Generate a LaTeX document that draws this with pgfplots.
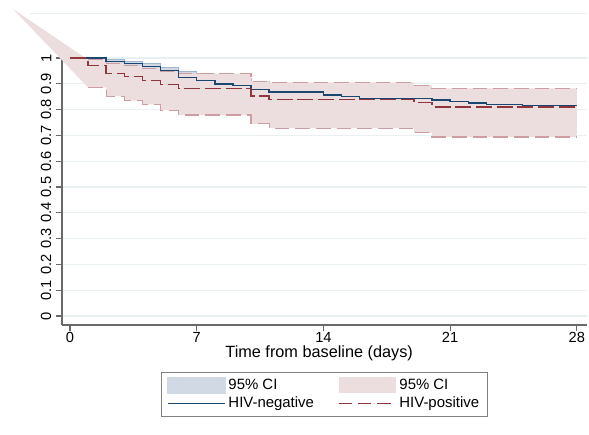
\documentclass[border=0pt]{standalone}
\usepackage{fontspec}
\setmainfont{Liberation Sans}
\usepackage{pgfplots}
\pgfplotsset{compat=1.18}
\definecolor{navyc}{RGB}{26,71,111}
\definecolor{maroonc}{RGB}{144,53,59}
\definecolor{pinkfill}{RGB}{236,221,222}
\definecolor{bluefill}{RGB}{209,218,228}
\definecolor{pinkline}{RGB}{205,158,161}
\definecolor{blueline}{RGB}{160,182,204}
\definecolor{gridc}{RGB}{232,240,241}
\definecolor{axisc}{RGB}{105,105,105}
\begin{document}
\begin{tikzpicture}
\useasboundingbox (-46.5pt,-82.5pt) rectangle (395.25pt,243.75pt);
\begin{axis}[
  scale only axis,
  width=393.6pt, height=207pt,
  xmin=-0.442, xmax=28.55,
  ymin=-0.035, ymax=1.035,
  clip=false,
  axis lines=left,
  axis line style={-, axisc, line width=1pt},
  xtick={0,7,14,21,28},
  ytick={0,0.1,0.2,0.3,0.4,0.5,0.6,0.7,0.8,0.9,1},
  yticklabels={0,0.1,0.2,0.3,0.4,0.5,0.6,0.7,0.8,0.9,1},
  tick align=outside,
  major tick length=4.5pt,
  tick style={axisc, line width=0.8pt},
  ymajorgrids,
  major grid style={gridc, line width=0.8pt},
  /pgf/number format/assume math mode=true,
  tick label style={font=\fontsize{11}{13}\selectfont},
  yticklabel style={rotate=90, anchor=south},
  xticklabel style={yshift=2.5pt},
  xlabel={Time from baseline (days)},
  xlabel style={at={(axis description cs:0.49,-0.102)}, anchor=center, font=\fontsize{12.2}{14}\selectfont},
  legend columns=2,
  legend cell align=left,
  legend style={at={(axis description cs:0.5,-0.1703)}, anchor=north,
    draw=gray, fill=white, line width=0.6pt,
    font=\fontsize{11.2}{13}\selectfont,
    inner xsep=4pt, inner ysep=3pt,
    /tikz/every even column/.append style={column sep=16pt}},
]
\draw[gridc, line width=0.8pt] (axis cs:-2.2,1.174) -- (axis cs:28.55,1.174);

% HIV-negative 95% CI band
\addplot[fill=bluefill, draw=blueline, line width=0.6pt,
  legend image code/.code={\fill[bluefill] (0pt,-6pt) rectangle (43pt,6pt);}]
coordinates {
(0,1) (2,1) (2,0.996) (3,0.996) (3,0.988) (4,0.988) (4,0.979) (5,0.979)
(5,0.965) (6,0.965) (6,0.95) (7,0.95) (7,0.94) (8,0.94) (8,0.928) (9,0.928)
(9,0.922) (10,0.922) (10,0.91) (11,0.91) (11,0.902) (14,0.902) (14,0.893)
(15,0.893) (15,0.887) (16,0.887) (16,0.882) (20,0.882) (20,0.876) (21,0.876)
(21,0.871) (22,0.871) (22,0.866) (23,0.866) (23,0.862) (25,0.862) (25,0.858) (28,0.858)
(28,0.771) (25,0.771) (25,0.776) (23,0.776) (23,0.782) (22,0.782) (22,0.789)
(21,0.789) (21,0.795) (20,0.795) (20,0.803) (16,0.803) (16,0.81) (15,0.81)
(15,0.818) (14,0.818) (14,0.828) (11,0.828) (11,0.838) (10,0.838) (10,0.855)
(9,0.855) (9,0.862) (8,0.862) (8,0.875) (7,0.875) (7,0.89) (6,0.89) (6,0.92)
(5,0.92) (5,0.935) (4,0.935) (4,0.95) (3,0.95) (3,0.96) (2,0.96) (2,1)
} -- cycle;
\addlegendentry{95\% CI}

% HIV-positive 95% CI band
\addplot[fill=pinkfill, draw=none,
  legend image code/.code={\fill[pinkfill] (0pt,-6pt) rectangle (43pt,6pt);}]
coordinates {
(-3.15,1.19) (1,0.993) (2,0.993) (2,0.978) (3,0.978) (3,0.97) (4,0.97)
(4,0.96) (5,0.96) (5,0.948) (6,0.948) (6,0.94) (10,0.94) (10,0.91)
(11,0.91) (11,0.906) (19,0.906) (19,0.895) (20,0.895) (20,0.882) (28,0.882)
(28,0.694) (20,0.694) (20,0.71) (19,0.71) (19,0.728) (11,0.728) (11,0.745)
(10,0.745) (10,0.779) (6,0.779) (6,0.798) (5,0.798) (5,0.82) (4,0.82)
(4,0.835) (3,0.835) (3,0.852) (2,0.852) (2,0.886) (1,0.886)
} -- cycle;
\addlegendentry{95\% CI}

% HIV-positive CI bounds (dashed)
\addplot[const plot, pinkline, line width=0.9pt, dash pattern=on 11pt off 4.5pt, forget plot]
coordinates {(1,0.993) (2,0.978) (3,0.97) (4,0.96) (5,0.948) (6,0.94) (10,0.91)
(11,0.906) (19,0.895) (20,0.882) (28,0.882)};
\addplot[const plot, pinkline, line width=0.9pt, dash pattern=on 11pt off 4.5pt, forget plot]
coordinates {(1,0.886) (2,0.852) (3,0.835) (4,0.82) (5,0.798) (6,0.779) (10,0.745)
(11,0.728) (19,0.71) (20,0.694) (28,0.694)};

% HIV-negative estimate
\addplot[const plot, navyc, line width=1.1pt,
  legend image code/.code={\draw[navyc, line width=1.1pt] (0pt,0pt) -- (43pt,0pt);}]
coordinates {(0,1) (2,0.986) (3,0.979) (4,0.967) (5,0.952) (6,0.925) (7,0.912)
(8,0.90) (9,0.893) (10,0.877) (11,0.868) (14,0.857) (15,0.85) (16,0.844)
(20,0.837) (21,0.831) (22,0.825) (23,0.82) (25,0.815) (28,0.815)};
\addlegendentry{HIV-negative}

% HIV-positive estimate
\addplot[const plot, maroonc, line width=1.1pt, dash pattern=on 12pt off 3.5pt,
  legend image code/.code={\draw[maroonc, line width=1.1pt, dash pattern=on 10pt off 4.5pt] (0pt,0pt) -- (43pt,0pt);}]
coordinates {(0,1) (1,0.971) (2,0.941) (3,0.928) (4,0.912) (5,0.898) (6,0.882)
(10,0.853) (11,0.84) (19,0.827) (20,0.811) (28,0.811)};
\addlegendentry{HIV-positive}
\end{axis}
\end{tikzpicture}
\end{document}
